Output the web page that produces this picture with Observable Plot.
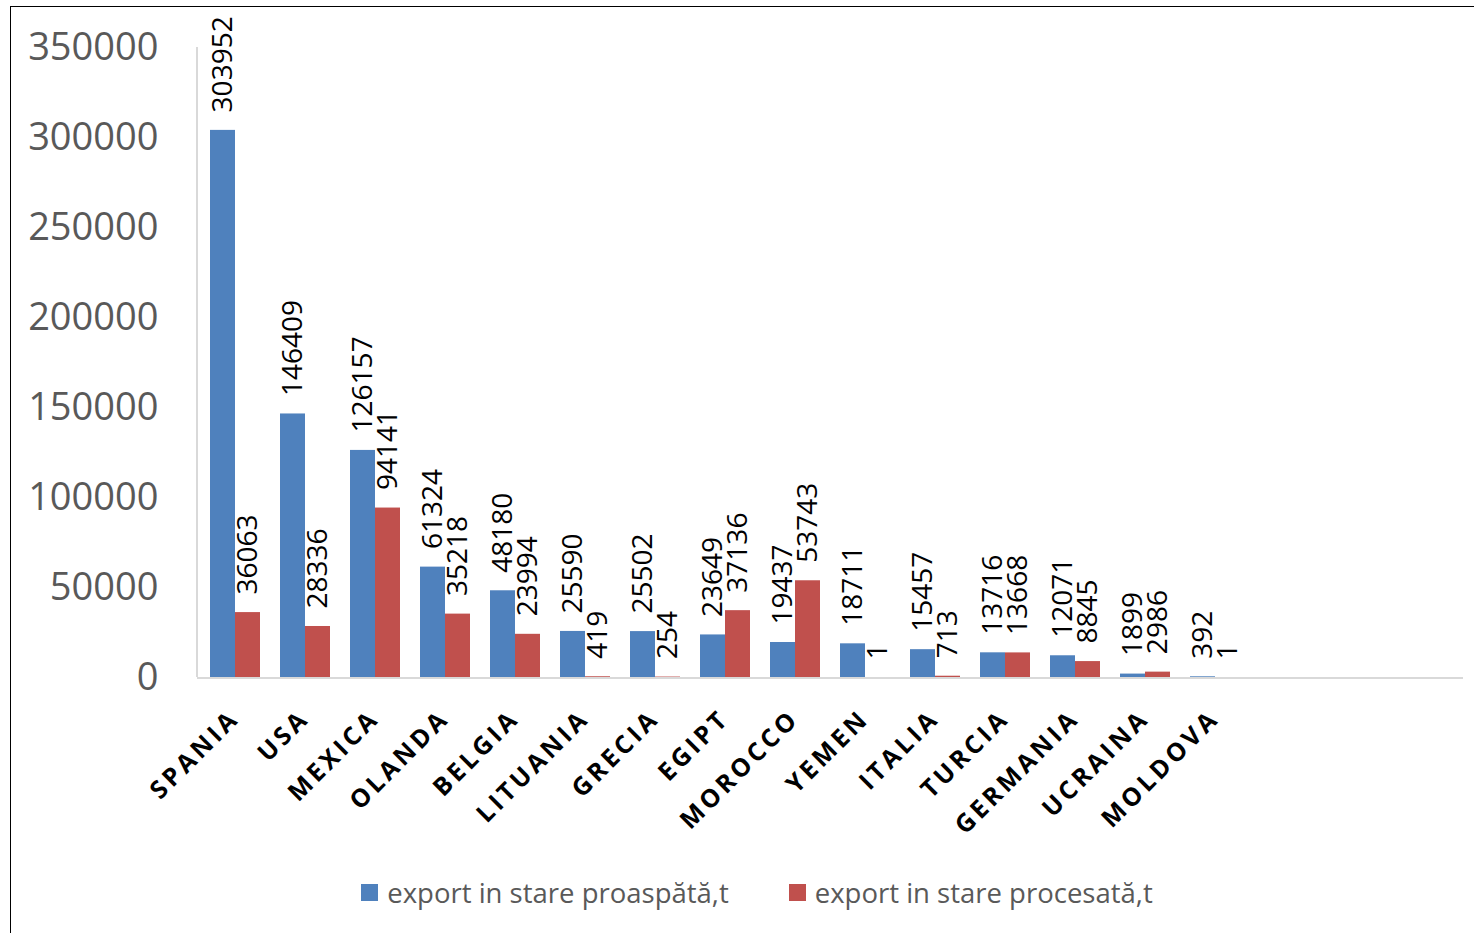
<!DOCTYPE html>
<html>
<head>
<meta charset="utf-8">
<script src="https://cdn.jsdelivr.net/npm/d3@7"></script>
<script src="https://cdn.jsdelivr.net/npm/@observablehq/plot@0.6"></script>
<style>
  html, body { margin: 0; padding: 0; background: #fff; overflow: hidden; width: 1474px; height: 933px; }
  #frame { position: absolute; left: 10px; top: 6px; width: 1500px; height: 1000px; border: 1.5px solid #000; box-sizing: border-box; }
  #chart { position: absolute; left: 0; top: 0; }
  #legend { position: absolute; left: 0; width: 1514px; top: 874px; display: flex; justify-content: center; gap: 60px; font-family: "Open Sans", sans-serif; font-size: 27.5px; color: #595959; }
  #legend .item { display: flex; align-items: center; gap: 9px; }
  #legend .sw { width: 17px; height: 17px; display: inline-block; }
</style>
</head>
<body>
<div id="frame"></div>
<div id="chart"></div>
<div id="legend"></div>
<script>
const categories = ["SPANIA","USA","MEXICA","OLANDA","BELGIA","LITUANIA","GRECIA","EGIPT","MOROCCO","YEMEN","ITALIA","TURCIA","GERMANIA","UCRAINA","MOLDOVA"];
const emptySlots = ["_1","_2","_3"];
const seriesNames = ["export in stare proaspătă,t","export in stare procesată,t"];
const freshValues = [303952,146409,126157,61324,48180,25590,25502,23649,19437,18711,15457,13716,12071,1899,392];
const processedValues = [36063,28336,94141,35218,23994,419,254,37136,53743,1,713,13668,8845,2986,1];
const yTicks = [0,50000,100000,150000,200000,250000,300000,350000];
const colors = ["#4F81BD","#C0504D"];

const data = [];
categories.forEach((c, i) => {
  data.push({country: c, series: seriesNames[0], value: freshValues[i]});
  data.push({country: c, series: seriesNames[1], value: processedValues[i]});
});

const chart = Plot.plot({
  width: 1474,
  height: 860,
  marginTop: 47,
  marginBottom: 183,
  marginLeft: 197,
  marginRight: 11,
  style: {fontFamily: "Open Sans", background: "transparent"},
  fx: {domain: categories.concat(emptySlots), paddingInner: 0.27, paddingOuter: 0.135, label: null},
  x: {domain: seriesNames, padding: 0, axis: null},
  y: {domain: [0, 350000], label: null},
  color: {domain: seriesNames, range: colors},
  marks: [
    Plot.barY(data, {fx: "country", x: "series", y: "value", fill: "series"}),
    Plot.text(data, {fx: "country", x: "series", y: "value", text: d => String(d.value), rotate: -90, textAnchor: "start", dy: -18, fontSize: 28, fill: "#000"}),
    Plot.axisY({ticks: yTicks, tickSize: 0, tickPadding: 51, fontSize: 38, color: "#595959", tickFormat: d => String(d), label: null}),
    Plot.axisFx({anchor: "bottom", tickSize: 0, tickPadding: 37, tickRotate: -45, fontSize: 25, fontWeight: "bold", color: "#000", tickFormat: d => d.startsWith("_") ? "" : d, label: null})
  ]
});
document.getElementById("chart").appendChild(chart);

// axis lines drawn with the chart's own scales
const svg = d3.select(chart.tagName.toLowerCase() === "svg" ? chart : chart.querySelector("svg"));
const ys = chart.scale("y");
const fxs = chart.scale("fx");
const y0 = ys.apply(0), yTop = ys.apply(350000);
svg.append("line").attr("x1", fxs.range[0]).attr("x2", fxs.range[0]).attr("y1", yTop).attr("y2", y0).attr("stroke", "#d9d9d9").attr("stroke-width", 2);
svg.append("line").attr("x1", fxs.range[0]).attr("x2", fxs.range[1]).attr("y1", y0 + 1).attr("y2", y0 + 1).attr("stroke", "#d9d9d9").attr("stroke-width", 2);
svg.selectAll('[aria-label="fx-axis tick label"] text').style("letter-spacing", "3.5px");

const legend = document.getElementById("legend");
seriesNames.forEach((s, i) => {
  const item = document.createElement("div");
  item.className = "item";
  const sw = document.createElement("span");
  sw.className = "sw";
  sw.style.background = colors[i];
  const t = document.createElement("span");
  t.textContent = s;
  item.appendChild(sw); item.appendChild(t);
  legend.appendChild(item);
});
</script>
</body>
</html>
